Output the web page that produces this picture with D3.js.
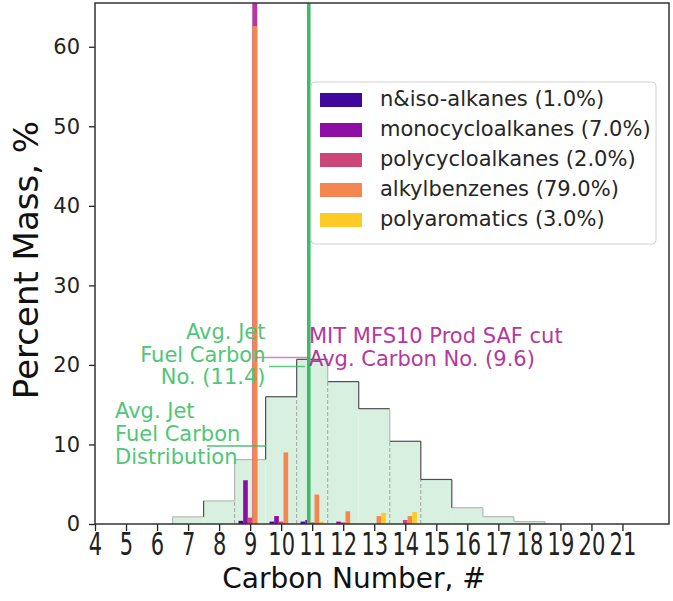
<!DOCTYPE html>
<html><head><meta charset="utf-8">
<script src="https://cdn.jsdelivr.net/npm/d3@7"></script>
<style>
html,body{margin:0;padding:0;background:#fff;}
text{font-family:"DejaVu Sans",sans-serif;}
</style></head>
<body><div id="chart"></div>
<script>
// ---- data ----
const histCarbon = [7, 8, 9, 10, 11, 12, 13, 14, 15, 16, 17, 18];
const histValues = [0.9, 2.9, 8.1, 16.0, 20.7, 17.9, 14.5, 10.4, 5.6, 2.05, 0.92, 0.3];
const barCarbon = [9, 10, 11, 12, 13, 14];
const seriesNames = ["n&iso-alkanes (1.0%)", "monocycloalkanes (7.0%)", "polycycloalkanes (2.0%)", "alkylbenzenes (79.0%)", "polyaromatics (3.0%)"];
const nIso = [0.4, 0.3, 0.3, 0, 0, 0];
const mono = [5.5, 1.0, 0.5, 0.3, 0, 0];
const poly = [0.8, 0.3, 0.2, 0.2, 0, 0.5];
const alkyl = [62.6, 9.0, 3.7, 1.6, 1.0, 1.0];
const polyArom = [0, 0, 0.3, 0, 1.4, 1.5];
const seriesColors = ["#3f079b", "#8e0ea5", "#cc4778", "#f4864f", "#fdca26"];
const xTicks = d3.range(4, 22);
const yTicks = [0, 10, 20, 30, 40, 50, 60];
const jetAvgLineX = 10.89;   // green line position on axis
const safAvgLineX = 9.15;    // magenta line position on axis
const jetAvgLabel = ["Avg. Jet", "Fuel Carbon", "No. (11.4)"];
const jetDistLabel = ["Avg. Jet", "Fuel Carbon", "Distribution"];
const safLabel = ["MIT MFS10 Prod SAF cut", "Avg. Carbon No. (9.6)"];

const W = 673, H = 601;
const x = d3.scaleLinear().domain([4, 22.5]).range([95, 669]);
const y = d3.scaleLinear().domain([0, 65.5]).range([524, 3]);
const svg = d3.select("#chart").append("svg").attr("width", W).attr("height", H);

const green = "#3dbb66", greenText = "#50c676", magenta = "#b5379f";
const darkEdge = "#505050", lightEdge = "#b8b8b8";

// histogram fill
const hist = histCarbon.map((c, i) => ({c, v: histValues[i]}));
svg.append("g").selectAll("rect").data(hist).join("rect")
  .attr("x", d => x(d.c - 0.5)).attr("width", d => x(d.c + 0.5) - x(d.c - 0.5))
  .attr("y", d => y(d.v)).attr("height", d => y(0) - y(d.v))
  .attr("fill", "#d8f0e0");
// dashed interior edges
const dashedAt = [8.5, 10.5, 11.5, 13.5, 14.5];
svg.append("g").selectAll("line").data(hist.slice(1).map((d, i) => ({b: d.c - 0.5, lo: Math.min(d.v, hist[i].v)})).filter(d => dashedAt.includes(d.b))).join("line")
  .attr("x1", d => x(d.b)).attr("x2", d => x(d.b))
  .attr("y1", y(0)).attr("y2", d => y(d.lo))
  .attr("stroke", "#9a9a9a").attr("stroke-width", 0.9).attr("stroke-dasharray", "4 2");
// outline: tops
const darkTops = [10, 11, 12, 13, 14, 15];
svg.append("g").selectAll("line").data(hist).join("line")
  .attr("x1", d => x(d.c - 0.5)).attr("x2", d => x(d.c + 0.5))
  .attr("y1", d => y(d.v)).attr("y2", d => y(d.v))
  .attr("stroke", d => darkTops.includes(d.c) ? darkEdge : lightEdge).attr("stroke-width", 1.2);
// outline: verticals between bins
const darkRises = [7.5, 9.5, 10.5, 12.5, 14.5, 15.5];
const bounds = [];
hist.forEach((d, i) => {
  const prev = i === 0 ? 0 : hist[i - 1].v;
  bounds.push({b: d.c - 0.5, a: prev, z: d.v});
});
bounds.push({b: hist[hist.length - 1].c + 0.5, a: hist[hist.length - 1].v, z: 0});
svg.append("g").selectAll("line").data(bounds).join("line")
  .attr("x1", d => x(d.b)).attr("x2", d => x(d.b))
  .attr("y1", d => y(d.a)).attr("y2", d => y(d.z))
  .attr("stroke", d => darkRises.includes(d.b) ? darkEdge : lightEdge).attr("stroke-width", 1.2);

// magenta avg line (behind bars)
svg.append("line").attr("x1", x(safAvgLineX)).attr("x2", x(safAvgLineX))
  .attr("y1", y(0)).attr("y2", y(65.5)).attr("stroke", magenta).attr("stroke-width", 5);

// grouped bars
const series = [nIso, mono, poly, alkyl, polyArom];
const bw = 0.15;
series.forEach((vals, si) => {
  svg.append("g").selectAll("rect").data(barCarbon.map((c, i) => ({c, v: vals[i]})).filter(d => d.v > 0)).join("rect")
    .attr("x", d => x(d.c + (si - 2) * bw - bw / 2))
    .attr("width", x(4 + bw) - x(4))
    .attr("y", d => y(d.v)).attr("height", d => y(0) - y(d.v))
    .attr("fill", seriesColors[si]);
});

// green avg line
svg.append("line").attr("x1", x(jetAvgLineX)).attr("x2", x(jetAvgLineX))
  .attr("y1", y(0)).attr("y2", y(65.5)).attr("stroke", green).attr("stroke-width", 3.6);

// annotation connectors
svg.append("line").attr("x1", 257).attr("x2", 308).attr("y1", 357.5).attr("y2", 357.5)
  .attr("stroke", magenta).attr("stroke-opacity", 0.6).attr("stroke-width", 1.4);
svg.append("line").attr("x1", 269).attr("x2", 305).attr("y1", 366.5).attr("y2", 366.5)
  .attr("stroke", green).attr("stroke-opacity", 0.8).attr("stroke-width", 1.4);
svg.append("line").attr("x1", 207).attr("x2", 266).attr("y1", 446).attr("y2", 446)
  .attr("stroke", green).attr("stroke-opacity", 0.9).attr("stroke-width", 1.4);

// annotation texts
const fs = 21;
svg.append("text").attr("x", 265.5).attr("y", 331.7).attr("text-anchor", "end")
  .attr("fill", greenText).attr("font-size", fs)
  .selectAll("tspan").data(jetAvgLabel).join("tspan")
  .attr("x", 265.5).attr("dy", (d, i) => i === 0 ? "0.36em" : 22.5).text(d => d);
svg.append("text").attr("x", 115).attr("y", 410).attr("text-anchor", "start")
  .attr("fill", greenText).attr("font-size", fs)
  .selectAll("tspan").data(jetDistLabel).join("tspan")
  .attr("x", 115).attr("dy", (d, i) => i === 0 ? "0.36em" : 23.3).text(d => d);
svg.append("text").attr("x", 309).attr("y", 335).attr("text-anchor", "start")
  .attr("fill", magenta).attr("font-size", fs)
  .selectAll("tspan").data(safLabel).join("tspan")
  .attr("x", 309).attr("dy", (d, i) => i === 0 ? "0.36em" : 23).text(d => d);

// axes
const axisColor = "#222";
const xAxis = svg.append("g").attr("transform", `translate(0,${y(0)})`)
  .call(d3.axisBottom(x).tickValues(xTicks).tickSize(7).tickFormat(d3.format("d")));
xAxis.select(".domain").remove();
xAxis.selectAll("line").attr("stroke", axisColor).attr("stroke-width", 1.3);
xAxis.selectAll("text").attr("font-size", 21).attr("fill", "#222").attr("dy", null)
  .attr("y", 0).attr("transform", "translate(0,22) scale(1,1.5)")
  .attr("dominant-baseline", "middle");
const yAxis = svg.append("g").attr("transform", `translate(${x(4)},0)`)
  .call(d3.axisLeft(y).tickValues(yTicks).tickSize(6));
yAxis.select(".domain").remove();
yAxis.selectAll("line").attr("stroke", axisColor).attr("stroke-width", 1.3);
yAxis.selectAll("text").attr("font-size", 21).attr("fill", "#222").attr("x", -15);

// frame
svg.append("rect").attr("x", x(4)).attr("y", y(65.5)).attr("width", x(22.5) - x(4))
  .attr("height", y(0) - y(65.5)).attr("fill", "none").attr("stroke", "#333").attr("stroke-width", 1.5);

// axis labels
svg.append("text").attr("x", 354).attr("y", 580).attr("text-anchor", "middle")
  .attr("dominant-baseline", "middle").attr("font-size", 28).attr("fill", "#111").text("Carbon Number, #");
svg.append("text").attr("transform", "translate(28,260) rotate(-90)").attr("text-anchor", "middle")
  .attr("dominant-baseline", "middle").attr("font-size", 34).attr("fill", "#111").text("Percent Mass, %");

// legend
const lg = svg.append("g");
lg.append("rect").attr("x", 311).attr("y", 82).attr("width", 345).attr("height", 162).attr("rx", 4)
  .attr("fill", "#fff").attr("fill-opacity", 0.85).attr("stroke", "#d0d0d0").attr("stroke-width", 1);
seriesNames.forEach((n, i) => {
  const cy = 100 + i * 30;
  lg.append("rect").attr("x", 320).attr("y", cy - 7).attr("width", 42).attr("height", 14).attr("fill", seriesColors[i]);
  lg.append("text").attr("x", 380).attr("y", cy).attr("dominant-baseline", "middle")
    .attr("font-size", fs).attr("fill", "#262626").text(n);
});
</script></body></html>
